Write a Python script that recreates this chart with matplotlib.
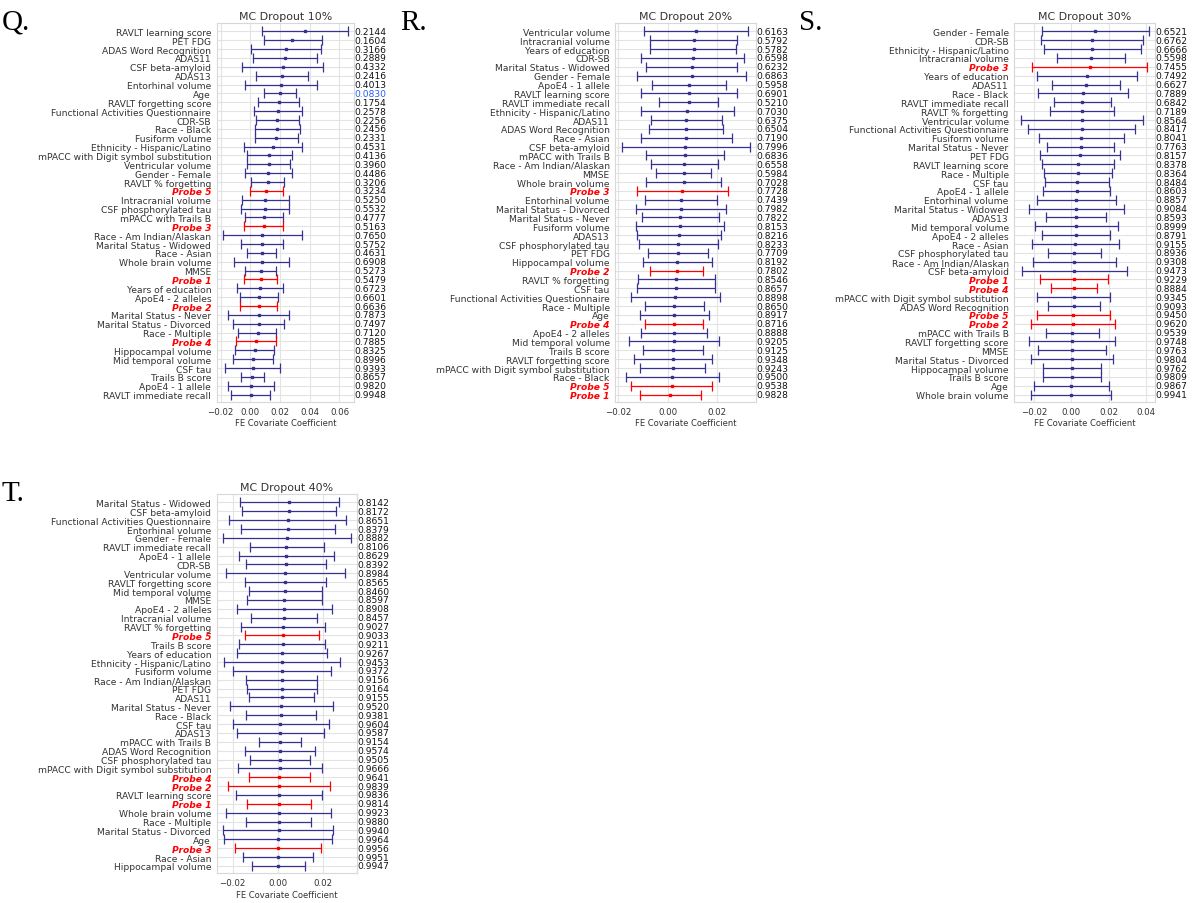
import numpy as np
import matplotlib.pyplot as plt
import matplotlib.transforms as mtransforms

# ---------------- datos (orden de arriba hacia abajo) ----------------
q_labels = ["RAVLT learning score", "PET FDG", "ADAS Word Recognition", "ADAS11", "CSF beta-amyloid",
            "ADAS13", "Entorhinal volume", "Age", "RAVLT forgetting score",
            "Functional Activities Questionnaire", "CDR-SB", "Race - Black", "Fusiform volume",
            "Ethnicity - Hispanic/Latino", "mPACC with Digit symbol substitution", "Ventricular volume",
            "Gender - Female", "RAVLT % forgetting", "Probe 5", "Intracranial volume",
            "CSF phosphorylated tau", "mPACC with Trails B", "Probe 3", "Race - Am Indian/Alaskan",
            "Marital Status - Widowed", "Race - Asian", "Whole brain volume", "MMSE", "Probe 1",
            "Years of education", "ApoE4 - 2 alleles", "Probe 2", "Marital Status - Never",
            "Marital Status - Divorced", "Race - Multiple", "Probe 4", "Hippocampal volume",
            "Mid temporal volume", "CSF tau", "Trails B score", "ApoE4 - 1 allele", "RAVLT immediate recall"]
q_coef = [0.0367, 0.0282, 0.0240, 0.0231, 0.0218, 0.0213, 0.0207, 0.0200, 0.0191, 0.0187, 0.0182,
          0.0182, 0.0176, 0.0151, 0.0124, 0.0124, 0.0122, 0.0116, 0.0109, 0.0102, 0.0100, 0.0093,
          0.0089, 0.0082, 0.0082, 0.0076, 0.0076, 0.0069, 0.0069, 0.0067, 0.0058, 0.0056, 0.0056,
          0.0056, 0.0049, 0.0038, 0.0029, 0.0020, 0.0016, 0.0013, 0.0004, 0.0002]
q_lo = [0.0076, 0.0089, 0.0004, 0.0018, -0.0056, 0.0036, -0.0033, 0.0089, 0.0051, 0.0027, 0.0036,
        0.0029, 0.0029, -0.0042, -0.0024, -0.0020, -0.0036, 0.0002, 0.0000, -0.0058, -0.0064, -0.0036,
        -0.0044, -0.0184, -0.0062, -0.0024, -0.0111, -0.0036, -0.0042, -0.0089, -0.0071, -0.0071,
        -0.0149, -0.0118, -0.0082, -0.0098, -0.0100, -0.0116, -0.0171, -0.0064, -0.0151, -0.0129]
q_hi = [0.0656, 0.0480, 0.0476, 0.0447, 0.0489, 0.0391, 0.0451, 0.0311, 0.0329, 0.0349, 0.0329,
        0.0336, 0.0320, 0.0347, 0.0278, 0.0269, 0.0278, 0.0229, 0.0218, 0.0260, 0.0260, 0.0222,
        0.0222, 0.0347, 0.0222, 0.0176, 0.0260, 0.0176, 0.0180, 0.0222, 0.0187, 0.0182, 0.0260,
        0.0229, 0.0176, 0.0176, 0.0160, 0.0153, 0.0200, 0.0093, 0.0160, 0.0133]
q_p = [0.2144, 0.1604, 0.3166, 0.2889, 0.4332, 0.2416, 0.4013, 0.0830, 0.1754, 0.2578, 0.2256,
       0.2456, 0.2331, 0.4531, 0.4136, 0.3960, 0.4486, 0.3206, 0.3234, 0.5250, 0.5532, 0.4777,
       0.5163, 0.7650, 0.5752, 0.4631, 0.6908, 0.5273, 0.5479, 0.6723, 0.6601, 0.6636, 0.7873,
       0.7497, 0.7120, 0.7885, 0.8325, 0.8996, 0.9393, 0.8657, 0.9820, 0.9948]

r_labels = ["Ventricular volume", "Intracranial volume", "Years of education", "CDR-SB",
            "Marital Status - Widowed", "Gender - Female", "ApoE4 - 1 allele", "RAVLT learning score",
            "RAVLT immediate recall", "Ethnicity - Hispanic/Latino", "ADAS11", "ADAS Word Recognition",
            "Race - Asian", "CSF beta-amyloid", "mPACC with Trails B", "Race - Am Indian/Alaskan", "MMSE",
            "Whole brain volume", "Probe 3", "Entorhinal volume", "Marital Status - Divorced",
            "Marital Status - Never", "Fusiform volume", "ADAS13", "CSF phosphorylated tau", "PET FDG",
            "Hippocampal volume", "Probe 2", "RAVLT % forgetting", "CSF tau",
            "Functional Activities Questionnaire", "Race - Multiple", "Age", "Probe 4", "ApoE4 - 2 alleles",
            "Mid temporal volume", "Trails B score", "RAVLT forgetting score",
            "mPACC with Digit symbol substitution", "Race - Black", "Probe 5", "Probe 1"]
r_coef = [0.0114, 0.0104, 0.0104, 0.0100, 0.0098, 0.0096, 0.0086, 0.0085, 0.0084, 0.0079, 0.0074,
          0.0073, 0.0073, 0.0071, 0.0070, 0.0066, 0.0065, 0.0065, 0.0059, 0.0055, 0.0054, 0.0050,
          0.0048, 0.0044, 0.0043, 0.0042, 0.0039, 0.0038, 0.0035, 0.0034, 0.0031, 0.0027, 0.0027,
          0.0026, 0.0024, 0.0024, 0.0022, 0.0020, 0.0020, 0.0018, 0.0016, 0.0009]
r_lo = [-0.0096, -0.0070, -0.0070, -0.0110, -0.0086, -0.0123, -0.0062, -0.0110, -0.0035, -0.0110,
        -0.0069, -0.0074, -0.0110, -0.0186, -0.0086, -0.0069, -0.0046, -0.0086, -0.0123, -0.0090,
        -0.0128, -0.0106, -0.0129, -0.0124, -0.0117, -0.0078, -0.0100, -0.0070, -0.0119, -0.0123,
        -0.0148, -0.0094, -0.0114, -0.0090, -0.0109, -0.0155, -0.0102, -0.0137, -0.0112, -0.0168,
        -0.0147, -0.0113]
r_hi = [0.0325, 0.0279, 0.0277, 0.0308, 0.0280, 0.0314, 0.0236, 0.0279, 0.0202, 0.0269, 0.0217,
        0.0221, 0.0257, 0.0330, 0.0225, 0.0202, 0.0176, 0.0215, 0.0242, 0.0198, 0.0236, 0.0207,
        0.0228, 0.0213, 0.0203, 0.0164, 0.0179, 0.0144, 0.0189, 0.0189, 0.0211, 0.0148, 0.0168,
        0.0143, 0.0159, 0.0206, 0.0144, 0.0179, 0.0151, 0.0207, 0.0179, 0.0133]
r_p = [0.6163, 0.5792, 0.5782, 0.6598, 0.6232, 0.6863, 0.5958, 0.6901, 0.5210, 0.7030, 0.6375,
       0.6504, 0.7190, 0.7996, 0.6836, 0.6558, 0.5984, 0.7028, 0.7728, 0.7439, 0.7982, 0.7822,
       0.8153, 0.8216, 0.8233, 0.7709, 0.8192, 0.7802, 0.8546, 0.8657, 0.8898, 0.8650, 0.8917,
       0.8716, 0.8888, 0.9205, 0.9125, 0.9348, 0.9243, 0.9500, 0.9538, 0.9828]

s_labels = ["Gender - Female", "CDR-SB", "Ethnicity - Hispanic/Latino", "Intracranial volume", "Probe 3",
            "Years of education", "ADAS11", "Race - Black", "RAVLT immediate recall", "RAVLT % forgetting",
            "Ventricular volume", "Functional Activities Questionnaire", "Fusiform volume",
            "Marital Status - Never", "PET FDG", "RAVLT learning score", "Race - Multiple", "CSF tau",
            "ApoE4 - 1 allele", "Entorhinal volume", "Marital Status - Widowed", "ADAS13",
            "Mid temporal volume", "ApoE4 - 2 alleles", "Race - Asian", "CSF phosphorylated tau",
            "Race - Am Indian/Alaskan", "CSF beta-amyloid", "Probe 1", "Probe 4",
            "mPACC with Digit symbol substitution", "ADAS Word Recognition", "Probe 5", "Probe 2",
            "mPACC with Trails B", "RAVLT forgetting score", "MMSE", "Marital Status - Divorced",
            "Hippocampal volume", "Trails B score", "Age", "Whole brain volume"]
s_coef = [0.0126, 0.0110, 0.0109, 0.0105, 0.0098, 0.0084, 0.0077, 0.0062, 0.0059, 0.0059, 0.0057,
          0.0055, 0.0053, 0.0050, 0.0046, 0.0037, 0.0036, 0.0030, 0.0030, 0.0027, 0.0027, 0.0027,
          0.0025, 0.0023, 0.0021, 0.0016, 0.0016, 0.0016, 0.0016, 0.0014, 0.0012, 0.0012, 0.0011,
          0.0007, 0.0005, 0.0004, 0.0004, 0.0002, 0.0002, 0.0002, 0.0000, -0.0002]
s_lo = [-0.0159, -0.0160, -0.0148, -0.0077, -0.0210, -0.0185, -0.0102, -0.0178, -0.0093, -0.0114,
        -0.0271, -0.0232, -0.0175, -0.0132, -0.0167, -0.0155, -0.0146, -0.0141, -0.0150, -0.0185,
        -0.0226, -0.0135, -0.0194, -0.0157, -0.0208, -0.0126, -0.0203, -0.0265, -0.0167, -0.0107,
        -0.0182, -0.0123, -0.0183, -0.0215, -0.0135, -0.0226, -0.0178, -0.0215, -0.0151, -0.0153,
        -0.0199, -0.0215]
s_hi = [0.0413, 0.0383, 0.0370, 0.0287, 0.0404, 0.0353, 0.0260, 0.0305, 0.0212, 0.0230, 0.0383,
        0.0340, 0.0281, 0.0228, 0.0260, 0.0228, 0.0217, 0.0201, 0.0208, 0.0239, 0.0280, 0.0187,
        0.0249, 0.0207, 0.0253, 0.0160, 0.0237, 0.0297, 0.0198, 0.0137, 0.0208, 0.0153, 0.0207,
        0.0232, 0.0148, 0.0235, 0.0183, 0.0221, 0.0157, 0.0157, 0.0201, 0.0212]
s_p = [0.6521, 0.6762, 0.6666, 0.5598, 0.7455, 0.7492, 0.6627, 0.7889, 0.6842, 0.7189, 0.8564,
       0.8417, 0.8041, 0.7763, 0.8157, 0.8378, 0.8364, 0.8484, 0.8603, 0.8857, 0.9084, 0.8593,
       0.8999, 0.8791, 0.9155, 0.8936, 0.9308, 0.9473, 0.9229, 0.8884, 0.9345, 0.9093, 0.9450,
       0.9620, 0.9539, 0.9748, 0.9763, 0.9804, 0.9762, 0.9809, 0.9867, 0.9941]

t_labels = ["Marital Status - Widowed", "CSF beta-amyloid", "Functional Activities Questionnaire",
            "Entorhinal volume", "Gender - Female", "RAVLT immediate recall", "ApoE4 - 1 allele", "CDR-SB",
            "Ventricular volume", "RAVLT forgetting score", "Mid temporal volume", "MMSE",
            "ApoE4 - 2 alleles", "Intracranial volume", "RAVLT % forgetting", "Probe 5", "Trails B score",
            "Years of education", "Ethnicity - Hispanic/Latino", "Fusiform volume",
            "Race - Am Indian/Alaskan", "PET FDG", "ADAS11", "Marital Status - Never", "Race - Black",
            "CSF tau", "ADAS13", "mPACC with Trails B", "ADAS Word Recognition", "CSF phosphorylated tau",
            "mPACC with Digit symbol substitution", "Probe 4", "Probe 2", "RAVLT learning score", "Probe 1",
            "Whole brain volume", "Race - Multiple", "Marital Status - Divorced", "Age", "Probe 3",
            "Race - Asian", "Hippocampal volume"]
t_coef = [0.0051, 0.0049, 0.0044, 0.0043, 0.0040, 0.0038, 0.0035, 0.0035, 0.0032, 0.0032, 0.0031,
          0.0029, 0.0028, 0.0028, 0.0024, 0.0021, 0.0021, 0.0019, 0.0019, 0.0019, 0.0018, 0.0018,
          0.0018, 0.0015, 0.0013, 0.0010, 0.0010, 0.0010, 0.0009, 0.0009, 0.0009, 0.0007, 0.0006,
          0.0004, 0.0004, 0.0003, 0.0003, 0.0003, 0.0001, 0.0001, 0.0001, 0.0001]
t_lo = [-0.0166, -0.0160, -0.0215, -0.0165, -0.0243, -0.0125, -0.0174, -0.0141, -0.0229, -0.0146,
        -0.0129, -0.0135, -0.0182, -0.0119, -0.0165, -0.0144, -0.0171, -0.0181, -0.0240, -0.0200,
        -0.0141, -0.0138, -0.0129, -0.0213, -0.0141, -0.0200, -0.0181, -0.0084, -0.0146, -0.0124,
        -0.0178, -0.0128, -0.0222, -0.0187, -0.0138, -0.0228, -0.0140, -0.0243, -0.0240, -0.0190,
        -0.0156, -0.0116]
t_hi = [0.0272, 0.0260, 0.0304, 0.0253, 0.0324, 0.0204, 0.0249, 0.0215, 0.0299, 0.0212, 0.0194,
        0.0194, 0.0240, 0.0175, 0.0210, 0.0184, 0.0209, 0.0219, 0.0276, 0.0234, 0.0175, 0.0174,
        0.0162, 0.0244, 0.0168, 0.0225, 0.0203, 0.0104, 0.0166, 0.0141, 0.0194, 0.0141, 0.0232,
        0.0197, 0.0149, 0.0234, 0.0146, 0.0246, 0.0241, 0.0193, 0.0157, 0.0119]
t_p = [0.8142, 0.8172, 0.8651, 0.8379, 0.8882, 0.8106, 0.8629, 0.8392, 0.8984, 0.8565, 0.8460,
       0.8597, 0.8908, 0.8457, 0.9027, 0.9033, 0.9211, 0.9267, 0.9453, 0.9372, 0.9156, 0.9164,
       0.9155, 0.9520, 0.9381, 0.9604, 0.9587, 0.9154, 0.9574, 0.9505, 0.9666, 0.9641, 0.9839,
       0.9836, 0.9814, 0.9923, 0.9880, 0.9940, 0.9964, 0.9956, 0.9951, 0.9947]

BLUE = "#36328f"
W, H = 1196, 904

fig = plt.figure(figsize=(W / 100, H / 100), dpi=100)
fig.patch.set_facecolor("white")


# Función auxiliar para cada panel de coeficientes
def forest(px, letter, title, labels, coef, lo, hi, pvals):
    left, right, top, bottom = px
    ax = fig.add_axes([left / W, 1 - bottom / H, (right - left) / W, (bottom - top) / H])
    n = len(labels)
    y = np.arange(n)
    coef = np.array(coef)
    err = np.vstack([coef - np.array(lo), np.array(hi) - coef])
    for i in range(n):
        c = "red" if labels[i].startswith("Probe") else BLUE
        ax.errorbar(coef[i], y[i], xerr=err[:, i:i + 1], fmt="s", color=c, ecolor=c,
                    markersize=1.6, elinewidth=0.9, capsize=3.8, capthick=0.9)
    ax.set_yticks(y)
    ax.set_yticklabels(labels, fontsize=6.6, color="#333333")
    for tl in ax.get_yticklabels():
        if tl.get_text().startswith("Probe"):
            tl.set_color("red")
            tl.set_fontweight("bold")
            tl.set_fontstyle("italic")
    ax.set_ylim(n - 0.2, -0.95)
    ax.tick_params(axis="both", length=0)
    ax.tick_params(axis="y", pad=4)
    ax.tick_params(axis="x", pad=3.5, labelsize=6.2, labelcolor="#333333")
    ax.grid(True, color="#e3e3e3", linewidth=0.8)
    ax.set_axisbelow(True)
    for s in ax.spines.values():
        s.set_color("#d8d8d8")
        s.set_linewidth(0.8)
    ax.set_title(title, fontsize=7.9, color="#333333", pad=3)
    ax.set_xlabel("FE Covariate Coefficient", fontsize=6.0, color="#333333", labelpad=2)
    trans = mtransforms.blended_transform_factory(ax.transAxes, ax.transData)
    for i, p in enumerate(pvals):
        ax.text(1.004, y[i], f"{p:.4f}", transform=trans, fontsize=6.6, va="center", ha="left",
                color="#2a5cff" if p < 0.1 else "#111111")
    fig.text((left - 215) / W, 1 - (top - 14) / H, letter, fontsize=21,
             family=["Liberation Serif", "DejaVu Serif"], ha="left", va="top")
    return ax


forest((216.7, 354.0, 24.0, 402.7), "Q.", "MC Dropout 10%", q_labels, q_coef, q_lo, q_hi, q_p)
forest((615.3, 756.0, 24.0, 402.7), "R.", "MC Dropout 20%", r_labels, r_coef, r_lo, r_hi, r_p)
forest((1014.3, 1155.0, 24.0, 402.7), "S.", "MC Dropout 30%", s_labels, s_coef, s_lo, s_hi, s_p)
forest((216.7, 357.3, 495.0, 874.0), "T.", "MC Dropout 40%", t_labels, t_coef, t_lo, t_hi, t_p)

fig.savefig("out.png", dpi=100)
